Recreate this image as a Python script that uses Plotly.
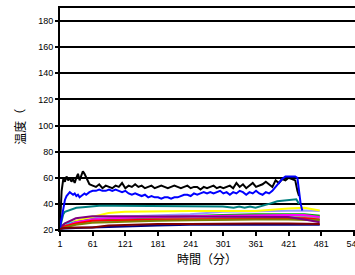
import plotly.graph_objects as go

# ---- data ----
black_t = [1, 4, 7, 10, 13, 16, 19, 22, 25, 28, 31, 34, 37, 40, 43, 46, 49, 52, 55, 61, 67, 73, 79, 85, 91, 97,
           103, 109, 115, 121, 127, 133, 139, 145, 151, 157, 163, 169, 175, 181, 187, 193, 199, 205, 211, 217,
           223, 229, 235, 241, 247, 253, 259, 265, 271, 277, 283, 289, 295, 301, 307, 313, 319, 325, 331, 337,
           343, 349, 355, 361, 367, 373, 379, 385, 391, 397, 403, 409, 415, 421, 427, 433, 437, 440]
black_v = [24, 50, 59, 57, 61, 58, 60, 57, 59, 56, 60, 63, 58, 61, 65, 63, 60, 57, 55, 54, 53, 55, 52, 54, 53, 52,
           54, 53, 56, 52, 54, 53, 55, 53, 54, 52, 53, 54, 52, 53, 54, 53, 52, 53, 54, 53,
           52, 53, 54, 52, 53, 53, 51, 53, 52, 53, 54, 52, 53, 52, 53, 54, 52, 56, 53, 55,
           52, 54, 56, 53, 54, 55, 57, 55, 53, 58, 56, 59, 58, 60, 59, 58, 50, 46]

blue_t = [1, 4, 7, 10, 13, 16, 19, 22, 25, 28, 31, 34, 37, 40, 43, 46, 49, 55, 61, 67, 73, 79, 85, 91, 97, 103,
          109, 115, 121, 127, 133, 139, 145, 151, 157, 163, 169, 175, 181, 187, 193, 199, 205, 211, 217, 223,
          229, 235, 241, 247, 253, 259, 265, 271, 277, 283, 289, 295, 301, 307, 313, 319, 325, 331, 337, 343,
          349, 355, 361, 367, 373, 379, 385, 391, 397, 403, 409, 415, 421, 427, 433, 437, 440, 443, 446]
blue_v = [22, 30, 38, 43, 46, 48, 49, 48, 47, 48, 46, 47, 45, 46, 47, 48, 47, 49, 50, 50, 51, 50, 50, 51, 50, 51,
          50, 49, 50, 48, 47, 48, 47, 46, 47, 45, 46, 45, 45, 44, 45, 45, 44, 45, 45, 46,
          47, 47, 46, 48, 47, 48, 49, 48, 49, 48, 49, 50, 48, 49, 47, 49, 48, 50, 49, 47,
          49, 48, 50, 48, 47, 49, 48, 50, 53, 56, 59, 61, 61, 61, 61, 60, 50, 40, 35]

teal_t = [1, 4, 7, 10, 16, 22, 31, 43, 55, 73, 100, 150, 200, 250, 300, 320, 330, 340, 350, 360, 370, 385, 400,
          420, 435, 440]
teal_v = [22, 28, 32, 34, 35, 36, 37, 37.5, 38, 38.5, 38.5, 38.5, 38.5, 38.5, 38, 37, 38, 37, 38, 37, 38, 40, 42,
          43, 43.5, 40]

low_t = [1, 10, 30, 60, 90, 120, 180, 240, 300, 360, 420, 450, 478]
yellow_v = [22, 24, 27, 30, 33, 34, 34.5, 34.5, 34.5, 34.5, 36.5, 37, 35]
lavender_v = [22, 24, 27, 29, 30, 30.5, 31, 32, 34, 34.5, 35, 35, 34.5]
green_v = [22, 23, 26, 28, 28.5, 29, 30, 31, 31.5, 32, 32, 32, 31]
magenta_v = [22, 23, 26, 28, 29, 29.5, 30, 30.5, 31, 31, 31.5, 31.5, 30]
purple_v = [22, 25, 29, 30.5, 30.5, 30.5, 30.5, 30.5, 30.5, 30.5, 30, 28, 26]
red_v = [22, 23, 25, 27, 27.5, 27.5, 28, 28, 28.5, 28.5, 29, 29, 28]
grey_v = [22, 23, 25, 27, 28, 28, 28.5, 29, 29.5, 30, 30, 30, 29.5]
olive_v = [21, 22, 24, 25.5, 26, 26.5, 27, 27.5, 28, 28, 28, 28, 27.5]
cyan_v = [22, 25, 26, 26.5, 27, 27, 27.5, 28, 28.5, 29, 29.5, 29, 28]
silver_v = [22, 24, 26, 28, 29, 29.5, 30, 30.5, 31, 31, 31.5, 31.5, 31]
darkred_v = [21, 21.5, 22, 22, 23.5, 24, 24.5, 24.5, 25, 25, 25, 25, 24.5]
navy_v = [21, 21, 21.5, 22, 22.5, 23, 23.5, 24, 24, 24.5, 24.5, 24.5, 24]

x_ticks = [1, 61, 121, 181, 241, 301, 361, 421, 481, 541]
y_ticks = [20, 40, 60, 80, 100, 120, 140, 160, 180]

# ---- figure ----
fig = go.Figure()
low_series = [
    (silver_v, '#C0C0C0'), (lavender_v, '#9999FF'), (yellow_v, '#FFFF00'), (cyan_v, '#00FFFF'),
    (grey_v, '#969696'), (green_v, '#00B000'), (magenta_v, '#FF00FF'), (red_v, '#FF0000'),
    (olive_v, '#808000'), (purple_v, '#800080'), (navy_v, '#000080'), (darkred_v, '#800000'),
]
for vals, col in low_series:
    fig.add_trace(go.Scatter(x=low_t, y=vals, mode='lines', line=dict(color=col, width=2)))
fig.add_trace(go.Scatter(x=teal_t, y=teal_v, mode='lines', line=dict(color='#008080', width=2)))
fig.add_trace(go.Scatter(x=black_t, y=black_v, mode='lines', line=dict(color='#000000', width=2)))
fig.add_trace(go.Scatter(x=blue_t, y=blue_v, mode='lines', line=dict(color='#0000FF', width=2)))

# figure is a bit wider than the 355px window so the plot area runs off the right edge
fig.update_layout(
    width=372, height=275,
    margin=dict(l=60, r=0, t=8, b=45, autoexpand=False),
    paper_bgcolor='white', plot_bgcolor='white',
    showlegend=False,
    font=dict(family='Liberation Sans, Arial, sans-serif', color='black'),
)
fig.update_xaxes(
    range=[1, 574], tickmode='array', tickvals=x_ticks, automargin=False,
    ticks='outside', ticklen=4, tickwidth=1.5, tickcolor='black',
    showline=True, linewidth=2, linecolor='black', mirror=True,
    showgrid=False, zeroline=False,
    tickfont=dict(size=9, family='Liberation Sans, Arial, sans-serif'),
    title=dict(text='', font=dict(size=12, family='Noto Sans CJK JP')),
)
fig.update_yaxes(
    range=[20, 190], tickmode='array', tickvals=y_ticks, automargin=False,
    ticks='outside', ticklen=3, tickwidth=1.5, tickcolor='black',
    showline=True, linewidth=2, linecolor='black',
    showgrid=True, gridcolor='black', gridwidth=1.5, zeroline=False,
    tickfont=dict(size=9, family='Liberation Sans, Arial, sans-serif'),
)
fig.add_annotation(
    xref='paper', yref='paper', x=(207 - 60) / 312, y=-(258 - 230) / 222, text='時間（分）',
    showarrow=False, xanchor='center', yanchor='middle',
    font=dict(size=12, family='Noto Sans CJK JP', color='black'),
)
fig.add_annotation(
    xref='paper', yref='y', x=(20 - 60) / 312, y=99, text='温度（', showarrow=False,
    xanchor='center', yanchor='middle',
    textangle=-90, font=dict(size=12, family='Noto Sans CJK JP', color='black'),
)
fig.write_html('out.html', config={'displayModeBar': False},
               post_script="document.body.style.margin='0';document.body.style.overflow='hidden';")
